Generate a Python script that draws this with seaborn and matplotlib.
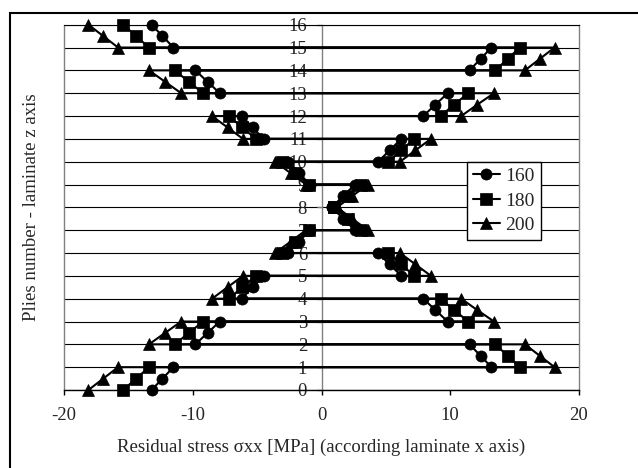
import matplotlib
matplotlib.use("Agg")
import matplotlib.pyplot as plt
import pandas as pd
import seaborn as sns
from matplotlib.patches import Rectangle

# Cure temperature series
series_labels = ["160", "180", "200"]
series_markers = {"160": "o", "180": "s", "200": "^"}

# Sampling points through each ply: bottom, middle, top
ply_points = [0.0, 0.5, 1.0]

# Residual stress sigma_xx [MPa] per ply (bottom, middle, top), plies 0..15
stress_160 = [
    (-13.2, -12.35, -11.5),
    (13.2, 12.35, 11.5),
    (-9.8, -8.85, -7.9),
    (9.8, 8.85, 7.9),
    (-6.2, -5.35, -4.5),
    (6.2, 5.3, 4.4),
    (-2.6, -1.75, -0.9),
    (2.6, 1.7, 0.8),
    (0.8, 1.7, 2.6),
    (-0.9, -1.75, -2.6),
    (4.4, 5.3, 6.2),
    (-4.5, -5.35, -6.2),
    (7.9, 8.85, 9.8),
    (-7.9, -8.85, -9.8),
    (11.5, 12.35, 13.2),
    (-11.5, -12.35, -13.2),
]
stress_180 = [
    (-15.4, -14.4, -13.4),
    (15.4, 14.45, 13.5),
    (-11.4, -10.3, -9.2),
    (11.4, 10.3, 9.25),
    (-7.2, -6.15, -5.1),
    (7.2, 6.2, 5.2),
    (-3.1, -2.05, -1.0),
    (3.1, 2.05, 1.0),
    (1.0, 2.05, 3.1),
    (-1.0, -2.05, -3.1),
    (5.2, 6.2, 7.2),
    (-5.1, -6.15, -7.2),
    (9.25, 10.3, 11.4),
    (-9.2, -10.3, -11.4),
    (13.5, 14.45, 15.4),
    (-13.4, -14.4, -15.4),
]
stress_200 = [
    (-18.1, -16.95, -15.8),
    (18.1, 16.95, 15.8),
    (-13.4, -12.15, -10.9),
    (13.4, 12.1, 10.85),
    (-8.5, -7.3, -6.1),
    (8.5, 7.3, 6.1),
    (-3.6, -2.4, -1.2),
    (3.6, 2.4, 1.2),
    (1.2, 2.4, 3.6),
    (-1.2, -2.4, -3.6),
    (6.1, 7.3, 8.5),
    (-6.1, -7.3, -8.5),
    (10.85, 12.1, 13.4),
    (-10.9, -12.15, -13.4),
    (15.8, 16.95, 18.1),
    (-15.8, -16.95, -18.1),
]

x_ticks = [-20, -10, 0, 10, 20]
y_ticks = list(range(17))

rows = []
for label, stress in zip(series_labels, [stress_160, stress_180, stress_200]):
    for ply, values in enumerate(stress):
        for frac, s in zip(ply_points, values):
            rows.append({"series": label, "z": ply + frac, "stress": s})
df = pd.DataFrame(rows)

sns.set_style("white")
plt.rcParams["font.family"] = ["Liberation Serif", "DejaVu Serif"]
plt.rcParams["font.size"] = 13.5

fig = plt.figure(figsize=(6.38, 4.68), dpi=100)
ax = fig.add_axes([64 / 638, 1 - 390 / 468, 515 / 638, 365.3 / 468])

sns.lineplot(
    data=df, x="stress", y="z", hue="series", style="series",
    palette={k: "black" for k in series_labels},
    markers=series_markers, dashes=False,
    sort=False, estimator=None, orient="y",
    linewidth=1.5, markersize=8, markeredgecolor="black", markeredgewidth=0.5,
    ax=ax, zorder=3,
)
for line in ax.get_lines():
    line.set_clip_on(False)
    if line.get_marker() == "^":
        line.set_markersize(9)

ax.set_xlim(-20, 20)
ax.set_ylim(0, 16)
ax.set_xticks(x_ticks)
ax.set_yticks(y_ticks)
ax.set_xticklabels([str(t) for t in x_ticks])
ax.set_yticklabels([str(t) for t in y_ticks])

ax.set_axisbelow(True)
ax.grid(axis="y", color="black", linewidth=0.8)
ax.grid(axis="x", visible=False)

# vertical axis crosses at zero stress
ax.spines["left"].set_position(("data", 0))
ax.spines["left"].set_color("#808080")
ax.spines["left"].set_linewidth(1.0)
ax.spines["right"].set_color("#808080")
ax.spines["right"].set_linewidth(1.0)
ax.spines["top"].set_color("black")
ax.spines["top"].set_linewidth(0.8)
ax.spines["bottom"].set_color("black")
ax.spines["bottom"].set_linewidth(1.0)
ax.axvline(-20, color="#808080", linewidth=1.0, clip_on=False, zorder=1)

ax.tick_params(axis="y", direction="out", length=3.6, width=1.0, pad=6.8,
               color="#808080", labelsize=13.5, left=True)
ax.tick_params(axis="x", direction="out", length=3.6, width=1.0, pad=9,
               color="black", labelsize=13.5, bottom=True)

ax.set_xlabel("Residual stress σxx [MPa] (according laminate x axis)", fontsize=13.5, labelpad=10)
ax.set_ylabel("Plies number - laminate z axis", fontsize=13.5)
ax.yaxis.set_label_coords(-0.047, 0.5)

handles, labels = ax.get_legend_handles_labels()
leg = ax.legend(handles, labels, loc="upper left", bbox_to_anchor=(0.782, 0.625),
                frameon=True, fancybox=False, edgecolor="black", framealpha=1,
                handlelength=1.4, handletextpad=0.3, borderpad=0.3,
                labelspacing=0.35, borderaxespad=0, fontsize=14)
leg.get_frame().set_linewidth(1.0)
leg.set_zorder(5)

# outer chart frame
frame = Rectangle((9.5 / 638, -0.2), 1.2, 1.2 - 12.7 / 468, transform=fig.transFigure,
                  fill=False, edgecolor="black", linewidth=1.5, clip_on=False)
fig.add_artist(frame)

fig.savefig("out.png", dpi=100)
